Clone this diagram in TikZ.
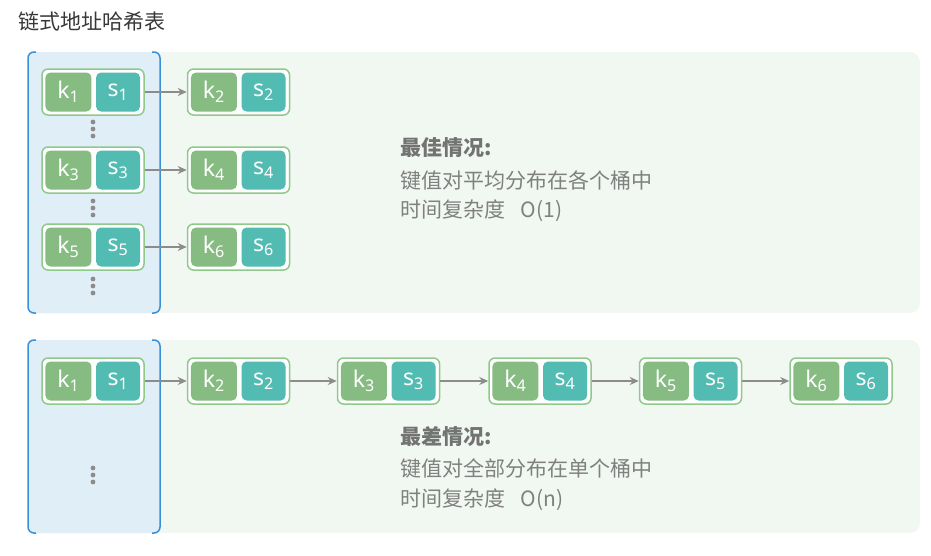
\documentclass[tikz,border=0pt]{standalone}
\usepackage{fontspec}
\setmainfont{Noto Sans CJK SC}
\newfontfamily\keyfont{Noto Sans}
\usetikzlibrary{arrows.meta}

\definecolor{keygreen}{HTML}{86BB82}
\definecolor{valteal}{HTML}{52BBB2}
\definecolor{pairline}{HTML}{8FC98B}
\definecolor{bucketblue}{HTML}{3A8FD9}
\definecolor{bucketfill}{HTML}{E0EEF8}
\definecolor{panelfill}{HTML}{F1F8F2}
\definecolor{linkgray}{HTML}{8C8C8C}
\definecolor{textgray}{HTML}{808080}

\tikzset{
    pair/.style={rectangle, rounded corners=6pt, draw=pairline, line width=1.5pt, fill=white,
        minimum width=102pt, minimum height=46pt, inner sep=0pt},
    kbox/.style={rectangle, rounded corners=5pt, fill=keygreen, text=white, anchor=west,
        minimum width=46pt, minimum height=39pt, inner sep=0pt, font=\keyfont\fontsize{23}{23}\selectfont},
    sbox/.style={kbox, fill=valteal, anchor=east, minimum width=44pt},
    link/.style={line width=1.8pt, linkgray, -{Stealth[length=9pt, width=8pt]}},
    note/.style={anchor=west, inner sep=0pt, text=textgray, font=\fontsize{21}{21}\selectfont},
}

\begin{document}
\begin{tikzpicture}[x=1pt, y=-1pt]
        \useasboundingbox (0,0) rectangle (931,555);

        \node[anchor=west, inner sep=0pt, text=black!78, font=\fontsize{21}{21}\selectfont] (title) at (18,22) {链式地址哈希表};

        % panels
        \fill[panelfill, rounded corners=10pt] (28,52) rectangle (920,313);
        \fill[panelfill, rounded corners=10pt] (28,340) rectangle (920,533);
        \foreach \top/\bot in {52/313, 340/533} {
            \fill[bucketfill, rounded corners=7pt] (28,\top) rectangle (160,\bot);
            \draw[bucketblue, line width=1.5pt, rounded corners=6pt] (36,\top) -- (28,\top) -- (28,\bot) -- (36,\bot);
            \draw[bucketblue, line width=1.5pt, rounded corners=6pt] (152,\top) -- (160,\top) -- (160,\bot) -- (152,\bot);
        }

        % key-value pairs
        \foreach \n/\x/\y/\i in {b1/93/92/1, b2/238.5/92/2, b3/93/170/3, b4/238.5/170/4, b5/93/247/5, b6/238.5/247/6,
                                 w1/93/381/1, w2/238.5/381/2, w3/388.5/381/3, w4/540/381/4, w5/690.5/381/5, w6/841/381/6} {
            \node[pair] (\n) at (\x,\y) {};
            \node[kbox] (\n k) at ([xshift=4]\n.west) {k\textsubscript{\i}};
            \node[sbox] (\n s) at ([xshift=-4.5]\n.east) {s\textsubscript{\i}};
        }

        \draw[link] (b1) -- (b2);
        \draw[link] (b3) -- (b4);
        \draw[link] (b5) -- (b6);
        \draw[link] (w1) -- (w2);
        \draw[link] (w2) -- (w3);
        \draw[link] (w3) -- (w4);
        \draw[link] (w4) -- (w5);
        \draw[link] (w5) -- (w6);

        % dots
        \foreach \y in {129, 208, 286, 475} {
            \foreach \d in {-7, 0, 7}
                \fill[linkgray] (93,\y+\d) circle (2.4pt);
        }

        % notes
        \node[note, font=\bfseries\fontsize{21}{21}\selectfont, text=black!55] (besthead) at (400,148) {最佳情况:};
        \node[note] (bestspread) at (400,180) {键值对平均分布在各个桶中};
        \node[note] (besttime) at (400,211) {时间复杂度\hspace{0.75em}O(1)};
        \node[note, font=\bfseries\fontsize{21}{21}\selectfont, text=black!55] (worsthead) at (400,437) {最差情况:};
        \node[note] (worstspread) at (400,468) {键值对全部分布在单个桶中};
        \node[note] (worsttime) at (400,500) {时间复杂度\hspace{0.75em}O(n)};
    \end{tikzpicture}
\end{document}
